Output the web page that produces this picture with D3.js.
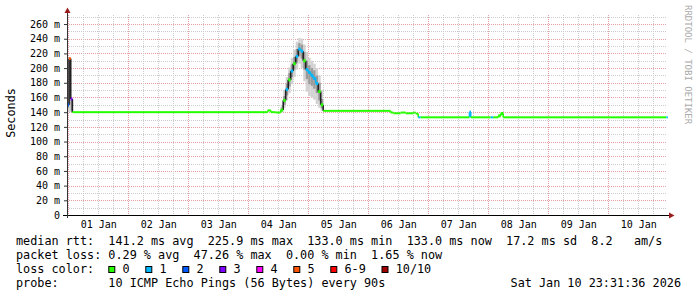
<!DOCTYPE html>
<html>
<head>
<meta charset="utf-8">
<script src="https://cdn.jsdelivr.net/npm/d3@7"></script>
<style>
body { margin: 0; background: #fff; }
text { font-family: "DejaVu Sans Mono", monospace; }
</style>
</head>
<body>
<svg id="chart" width="697" height="297"></svg>
<script>
// median rtt samples (ms), loss bucket index and smoke spread
var times = [
    "2025-12-31 23:32", "2026-01-01 00:20", "2026-01-01 01:00", "2026-01-01 01:40",
    "2026-01-04 07:50", "2026-01-04 09:00", "2026-01-04 11:00",
    "2026-01-04 13:00", "2026-01-04 14:00", "2026-01-04 15:00", "2026-01-04 16:00",
    "2026-01-04 17:00", "2026-01-04 18:00", "2026-01-04 19:00", "2026-01-04 20:00",
    "2026-01-04 21:00", "2026-01-04 22:00", "2026-01-04 23:00", "2026-01-05 00:00",
    "2026-01-05 01:00", "2026-01-05 02:00", "2026-01-05 03:00", "2026-01-05 04:00",
    "2026-01-05 05:00", "2026-01-05 06:00",
    "2026-01-06 09:00", "2026-01-06 10:00", "2026-01-06 13:00", "2026-01-06 15:00",
    "2026-01-06 18:00", "2026-01-06 19:00", "2026-01-06 20:00", "2026-01-06 21:00",
    "2026-01-07 16:30", "2026-01-07 17:00", "2026-01-08 01:00", "2026-01-08 02:00",
    "2026-01-08 04:00", "2026-01-08 05:00", "2026-01-08 06:00", "2026-01-10 23:15"
];
var median = [
    150, 213, 158, 140,
    142.5, 140, 139.5,
    143, 156, 171, 184,
    196, 206, 216, 225.9,
    223, 210, 198, 194,
    190, 186, 179, 168,
    150, 141.8,
    139.5, 138.5, 139.5, 138.5,
    139.3, 138, 133, 133,
    140, 133, 133, 133,
    135, 138.2, 133, 133
];
var loss = [
    2, 5, 3, 0,
    0, 0, 0,
    0, 0, 1, 0,
    1, 0, 1, 1,
    1, 0, 1, 1,
    1, 1, 1, 0,
    0, 0,
    0, 0, 0, 0,
    0, 0, 1, 0,
    1, 0, 1, 0,
    0, 0, 0, 1
];
var smokeLo = [
    141, 140, 140, 140,
    142.5, 140, 139.5,
    140, 146, 156, 166,
    178, 188, 198, 206,
    200, 182, 168, 162,
    160, 157, 151, 146,
    142, 141.8,
    139.5, 138.5, 139.5, 138.5,
    139.3, 138, 133, 133,
    133, 133, 133, 133,
    134, 136, 133, 133
];
var smokeHi = [
    156, 215, 160, 140,
    142.5, 140, 139.5,
    150, 170, 188, 201,
    214, 225, 236, 241,
    240, 232, 222, 214,
    210, 206, 200, 190,
    170, 141.8,
    139.5, 138.5, 139.5, 138.5,
    139.3, 138, 133, 133,
    142, 133, 133, 133,
    136, 139, 133, 133
];
var coreLo = [
    146, 150, 142, 140,
    142.5, 140, 139.5,
    141, 150, 163, 175,
    188, 198, 208, 216,
    213, 198, 185, 178,
    176, 172, 166, 156,
    145, 141.8,
    139.5, 138.5, 139.5, 138.5,
    139.3, 138, 133, 133,
    133, 133, 133, 133,
    135, 137, 133, 133
];
var coreHi = [
    153, 212, 157, 140,
    142.5, 140, 139.5,
    146, 162, 179, 193,
    205, 215, 226, 234,
    232, 222, 210, 204,
    200, 197, 190, 180,
    158, 141.8,
    139.5, 138.5, 139.5, 138.5,
    139.3, 138, 133, 133,
    140, 133, 133, 133,
    135, 138.2, 133, 133
];

var yTickValues = [0, 20, 40, 60, 80, 100, 120, 140, 160, 180, 200, 220, 240, 260];
var dayTicks = ["2026-01-01", "2026-01-02", "2026-01-03", "2026-01-04", "2026-01-05",
                "2026-01-06", "2026-01-07", "2026-01-08", "2026-01-09", "2026-01-10"];
var lossColors = ["#26ff00", "#00b8ff", "#0059ff", "#7e00ff", "#ff00ff", "#ff5500", "#ff0000", "#a10000"];
var lossLabels = ["0", "1", "2", "3", "4", "5", "6-9", "10/10"];

var legendLines = [
    "median rtt:  141.2 ms avg  225.9 ms max  133.0 ms min  133.0 ms now  17.2 ms sd  8.2   am/s",
    "packet loss: 0.29 % avg  47.26 % max  0.00 % min  1.65 % now",
    "loss color:",
    "probe:       10 ICMP Echo Pings (56 Bytes) every 90s"
];
var stamp = "Sat Jan 10 23:31:36 2026";

var parse = d3.timeParse("%Y-%m-%d %H:%M");
var parseDay = d3.timeParse("%Y-%m-%d");
var svg = d3.select("#chart");

var gLeft = 67, gRight = 667, gTop = 15, gBottom = 215;
var start = parse("2025-12-31 23:31"), end = parse("2026-01-10 23:31");
var x = d3.scaleTime().domain([start, end]).range([gLeft, gRight]);
var y = d3.scaleLinear().domain([0, 272.3]).range([gBottom, gTop]);

var data = times.map(function(t, i) {
    return {t: parse(t), med: median[i], loss: loss[i],
            lo: smokeLo[i], hi: smokeHi[i], clo: coreLo[i], chi: coreHi[i]};
});
data.forEach(function(d, i) {
    d.t2 = (i < data.length - 1) ? data[i + 1].t : end;
});

// grid
var grid = svg.append("g");
d3.range(10, 271, 10).forEach(function(v) {
    var major = v % 20 == 0;
    grid.append("line")
        .attr("x1", gLeft).attr("x2", gRight)
        .attr("y1", Math.round(y(v)) + 0.5).attr("y2", Math.round(y(v)) + 0.5)
        .attr("stroke", major ? "#e6a0a0" : "#cccccc")
        .attr("stroke-dasharray", "1,1");
});
d3.timeHour.every(6).range(start, end).forEach(function(t) {
    var major = t.getHours() == 0;
    var xx = Math.round(x(t)) + 0.5;
    grid.append("line")
        .attr("x1", xx).attr("x2", xx)
        .attr("y1", gTop).attr("y2", gBottom)
        .attr("stroke", major ? "#e6a0a0" : "#cccccc")
        .attr("stroke-dasharray", "1,1");
});

// smoke
var smoke = svg.append("g");
data.forEach(function(d) {
    if (d.hi > d.lo) {
        smoke.append("rect")
            .attr("x", x(d.t)).attr("width", x(d.t2) - x(d.t))
            .attr("y", y(d.hi)).attr("height", y(d.lo) - y(d.hi))
            .attr("fill", "#d2d2d2");
    }
    if (d.chi > d.clo) {
        smoke.append("rect")
            .attr("x", x(d.t)).attr("width", x(d.t2) - x(d.t))
            .attr("y", y(d.chi)).attr("height", y(d.clo) - y(d.chi))
            .attr("fill", "#9a9a9a");
    }
});

// median line: risers, loss coloured steps
var med = svg.append("g");
data.forEach(function(d, i) {
    if (i > 0) {
        var p = data[i - 1];
        var jump = Math.abs(y(p.med) - y(d.med));
        if (jump > 1) {
            var upper = p.med > d.med ? p : d;
            med.append("line")
                .attr("x1", x(d.t)).attr("x2", x(d.t))
                .attr("y1", y(p.med)).attr("y2", y(d.med))
                .attr("stroke", jump > 6 ? "#222" : lossColors[upper.loss])
                .attr("stroke-width", 1.6);
        }
    }
});
data.forEach(function(d) {
    var h = d.hi > d.lo ? 3 : 2;
    med.append("rect")
        .attr("x", x(d.t)).attr("width", Math.max(1.5, x(d.t2) - x(d.t)))
        .attr("y", y(d.med) - h / 2).attr("height", h)
        .attr("fill", lossColors[d.loss]);
});

// axes
var yAxis = svg.append("g")
    .attr("transform", "translate(" + gLeft + ",0)")
    .call(d3.axisLeft(y).tickValues(yTickValues).tickSize(3).tickPadding(4)
        .tickFormat(function(v) { return v == 0 ? "0" : v + " m"; }));
yAxis.select(".domain").remove();
yAxis.selectAll("line").attr("stroke", "#333");
yAxis.selectAll("text").attr("font-size", "10px").attr("fill", "#000")
    .style("font-family", "DejaVu Sans Mono");

var noons = dayTicks.map(function(s) { return d3.timeHour.offset(parseDay(s), 12); });
var xAxis = svg.append("g")
    .attr("transform", "translate(0," + gBottom + ")")
    .call(d3.axisBottom(x).tickValues(noons).tickSize(0).tickPadding(5.5)
        .tickFormat(d3.timeFormat("%d %b")));
xAxis.select(".domain").remove();
xAxis.selectAll("text").attr("font-size", "10px").attr("fill", "#000")
    .style("font-family", "DejaVu Sans Mono");

svg.append("line").attr("x1", 63).attr("x2", 671)
    .attr("y1", gBottom + 0.5).attr("y2", gBottom + 0.5).attr("stroke", "#000");
svg.append("line").attr("x1", gLeft + 0.5).attr("x2", gLeft + 0.5)
    .attr("y1", 218).attr("y2", 11).attr("stroke", "#333");
svg.append("path").attr("d", "M669,212.5L674.5,215.5L669,218.5Z").attr("fill", "#9b1c1c");
svg.append("path").attr("d", "M64.5,13L67.5,7.5L70.5,13Z").attr("fill", "#9b1c1c");

// titles
svg.append("text")
    .attr("transform", "translate(14.5,113) rotate(-90)")
    .attr("text-anchor", "middle")
    .attr("font-size", "11.8px")
    .text("Seconds");
svg.append("text")
    .attr("transform", "translate(685,5) rotate(90)")
    .attr("font-size", "9px")
    .attr("fill", "#aaaaaa")
    .text("RRDTOOL / TOBI OETIKER");

// legend
var cw = 7.1;
var rows = [244.5, 258.5, 272.5, 286.5];
legendLines.forEach(function(s, i) {
    svg.append("text")
        .attr("x", 16).attr("y", rows[i])
        .attr("font-size", "11.8px")
        .style("white-space", "pre")
        .text(s);
});
var bx = 16 + 13 * cw;
lossLabels.forEach(function(l, i) {
    svg.append("rect")
        .attr("x", bx + 0.5).attr("y", 266.5)
        .attr("width", 6).attr("height", 6)
        .attr("fill", lossColors[i]).attr("stroke", "#000");
    svg.append("text")
        .attr("x", bx + 2 * cw).attr("y", rows[2])
        .attr("font-size", "11.8px")
        .text(l);
    bx += 37 + (l.length - 1) * cw;
});
svg.append("text")
    .attr("x", 681).attr("y", rows[3])
    .attr("text-anchor", "end")
    .attr("font-size", "11.8px")
    .text(stamp);
</script>
</body>
</html>
